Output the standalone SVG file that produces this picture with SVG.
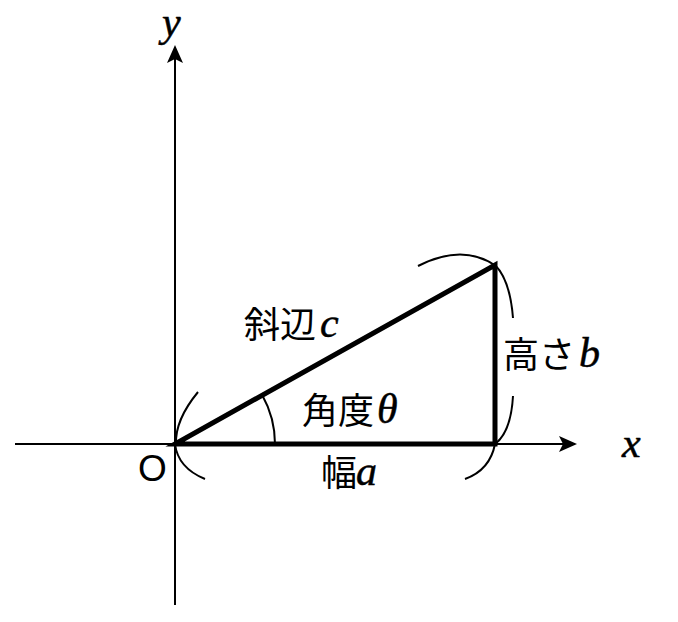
<svg xmlns="http://www.w3.org/2000/svg" width="678" height="622" viewBox="0 0 678 622">
<style>
.ax{stroke:#000;stroke-width:2;fill:none}
.tri{stroke:#000;stroke-width:5;fill:none;stroke-linejoin:miter}
.br{stroke:#000;stroke-width:2;fill:none}
.jp{font-family:"Noto Sans CJK JP","Noto Sans",sans-serif;font-size:36px;fill:#000}
.m{font-family:"Liberation Serif","DejaVu Serif",serif;font-style:italic;font-size:42px;fill:#000;stroke:#000;stroke-width:0.5}
.o{font-family:"Liberation Sans","Noto Sans",sans-serif;font-size:37px;fill:#000}
</style>
<defs>
<marker id="ah" markerWidth="18" markerHeight="18" viewBox="0 0 18 18" refX="16" refY="9" orient="auto" markerUnits="userSpaceOnUse">
<path d="M0,1 L18,9 L0,17 L4,9 Z" fill="#000"/>
</marker>
</defs>
<rect width="678" height="622" fill="#fff"/>
<g id="connectors">
<line id="x-axis" class="ax" x1="15" y1="444" x2="575" y2="444" marker-end="url(#ah)"/>
<line id="y-axis" class="ax" x1="175" y1="605" x2="175" y2="47" marker-end="url(#ah)"/>
</g>
<g id="triangle">
<path class="tri" d="M175,444 L495,444 L495,265 Z"/>
</g>
<g id="angle">
<path class="br" d="M262.3,395.2 A100,100 0 0 1 275,444"/>
</g>
<g id="braces">
<path class="br" d="M198,392 Q175,420 176,444"/>
<path class="br" d="M175,444 Q178,468 205,479"/>
<path class="br" d="M418,266 Q463,243 496,266"/>
<path class="br" d="M495,265 Q510,280 513,318"/>
<path class="br" d="M513,396 Q511,432 495,444"/>
<path class="br" d="M495,444 Q490,470 465,479"/>
</g>
<g id="label-hyp"><text class="jp" x="244" y="338">斜辺</text><text class="m" x="320" y="337">c</text></g>
<g id="label-angle"><text class="jp" x="302" y="424">角度</text><text class="m" x="377" y="423">θ</text></g>
<g id="label-width"><text class="jp" x="321" y="486">幅</text><text class="m" x="356" y="485">a</text></g>
<g id="label-height"><text class="jp" x="503" y="368">高さ</text><text class="m" x="579" y="367">b</text></g>
<g id="label-x"><text class="m" x="622" y="457">x</text></g>
<g id="label-y"><text class="m" x="162" y="36">y</text></g>
<g id="label-o"><text class="o" x="138" y="481">O</text></g>
</svg>
